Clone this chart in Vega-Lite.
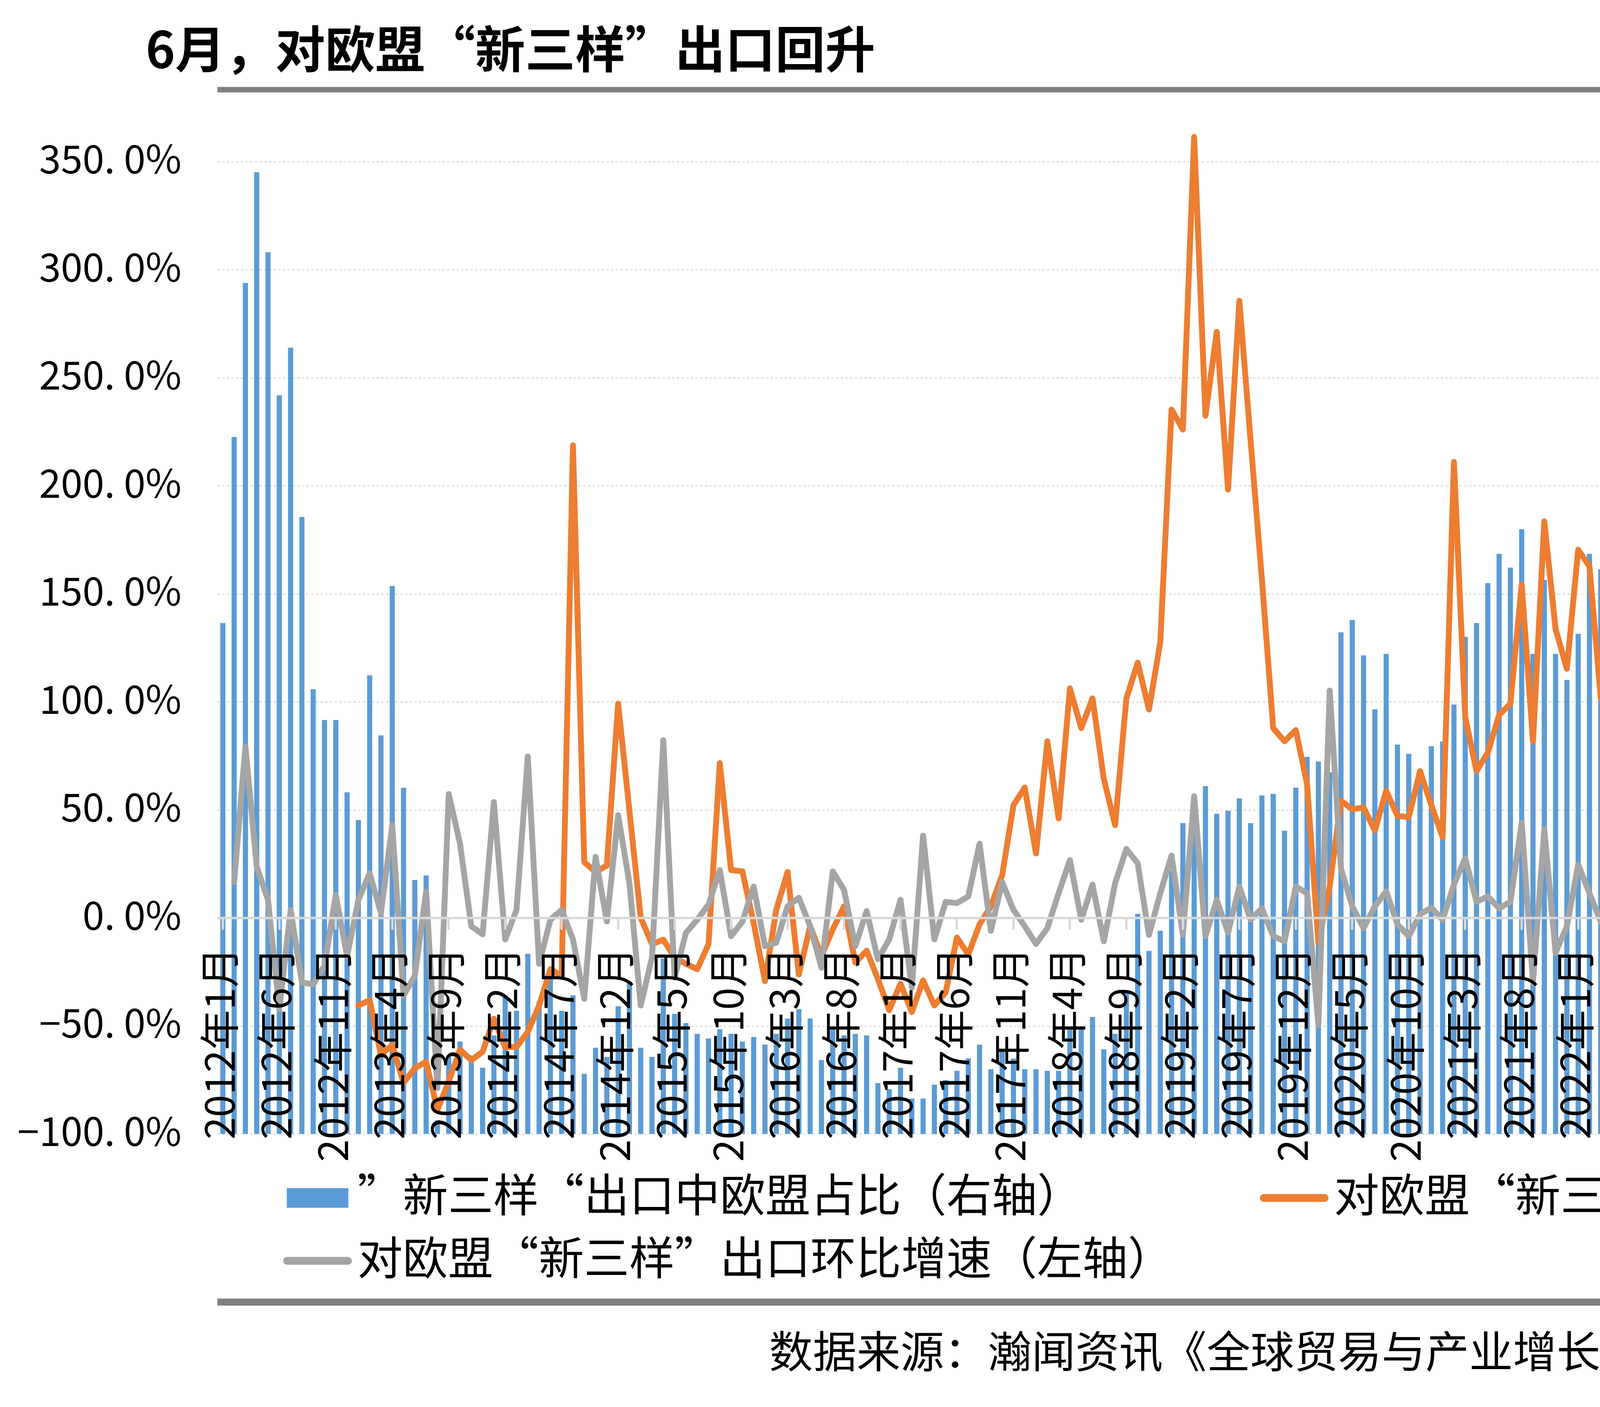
{
  "$schema": "https://vega.github.io/schema/vega-lite/v6.json",
  "autosize": {"type": "none"},
  "padding": {"left": 556, "top": 303, "right": 441, "bottom": 699},
  "width": 5031,
  "height": 2599,
  "background": "white",
  "config": {"view": {"stroke": null}, "font": "Noto Sans CJK SC"},
  "title": {"text": "6月，对欧盟“新三样”出口回升", "anchor": "start", "frame": "group", "dx": -183, "offset": 28, "fontSize": 128, "fontWeight": "bold", "color": "#000000", "font": "Noto Sans CJK SC"},
  "data": {"values": [
    {"month":"2012年1月","share":37.2,"yoy":null,"mom":null},
    {"month":"2012年2月","share":49.3,"yoy":null,"mom":16.5},
    {"month":"2012年3月","share":59.3,"yoy":null,"mom":79.3},
    {"month":"2012年4月","share":66.5,"yoy":null,"mom":23.6},
    {"month":"2012年5月","share":61.3,"yoy":null,"mom":8.3},
    {"month":"2012年6月","share":52.0,"yoy":null,"mom":-42.1},
    {"month":"2012年7月","share":55.1,"yoy":null,"mom":3.7},
    {"month":"2012年8月","share":44.1,"yoy":null,"mom":-29.9},
    {"month":"2012年9月","share":32.9,"yoy":null,"mom":-30.8},
    {"month":"2012年10月","share":30.9,"yoy":null,"mom":-22.2},
    {"month":"2012年11月","share":30.9,"yoy":null,"mom":10.5},
    {"month":"2012年12月","share":26.2,"yoy":null,"mom":-17.7},
    {"month":"2013年1月","share":24.4,"yoy":-40.6,"mom":8.3},
    {"month":"2013年2月","share":33.8,"yoy":-38.1,"mom":20.6},
    {"month":"2013年3月","share":29.9,"yoy":-63.5,"mom":2.2},
    {"month":"2013年4月","share":39.6,"yoy":-58.9,"mom":42.9},
    {"month":"2013年5月","share":26.5,"yoy":-76.3,"mom":-36.0},
    {"month":"2013年6月","share":20.5,"yoy":-69.6,"mom":-26.8},
    {"month":"2013年7月","share":20.8,"yoy":-66.6,"mom":12.3},
    {"month":"2013年8月","share":4.9,"yoy":-88.9,"mom":-78.8},
    {"month":"2013年9月","share":9.0,"yoy":-75.7,"mom":57.3},
    {"month":"2013年10月","share":10.0,"yoy":-61.0,"mom":34.3},
    {"month":"2013年11月","share":9.1,"yoy":-65.9,"mom":-3.9},
    {"month":"2013年12月","share":8.3,"yoy":-62.0,"mom":-7.6},
    {"month":"2014年1月","share":10.4,"yoy":-46.7,"mom":53.6},
    {"month":"2014年2月","share":13.0,"yoy":-59.8,"mom":-10.0},
    {"month":"2014年3月","share":12.0,"yoy":-59.8,"mom":3.7},
    {"month":"2014年4月","share":15.7,"yoy":-52.8,"mom":74.7},
    {"month":"2014年5月","share":12.6,"yoy":-40.6,"mom":-21.3},
    {"month":"2014年6月","share":14.3,"yoy":-23.8,"mom":-0.9},
    {"month":"2014年7月","share":12.0,"yoy":-26.8,"mom":3.7},
    {"month":"2014年8月","share":13.0,"yoy":218.7,"mom":-10.0},
    {"month":"2014年9月","share":7.9,"yoy":25.8,"mom":-37.5},
    {"month":"2014年10月","share":9.6,"yoy":21.2,"mom":28.2},
    {"month":"2014年11月","share":9.0,"yoy":24.2,"mom":-1.7},
    {"month":"2014年12月","share":12.3,"yoy":99.1,"mom":47.5},
    {"month":"2015年1月","share":13.9,"yoy":49.6,"mom":16.0},
    {"month":"2015年2月","share":9.6,"yoy":0,"mom":-40.6},
    {"month":"2015年3月","share":9.0,"yoy":-12.2,"mom":-18.3},
    {"month":"2015年4月","share":15.4,"yoy":-10.1,"mom":82.3},
    {"month":"2015年5月","share":11.8,"yoy":-18.3,"mom":-27.7},
    {"month":"2015年6月","share":11.2,"yoy":-21.3,"mom":-7.0},
    {"month":"2015年7月","share":10.5,"yoy":-23.8,"mom":-0.9},
    {"month":"2015年8月","share":10.2,"yoy":-12.2,"mom":6.2},
    {"month":"2015年9月","share":10.8,"yoy":71.6,"mom":22.1},
    {"month":"2015年10月","share":10.5,"yoy":22.1,"mom":-8.5},
    {"month":"2015年11月","share":10.0,"yoy":21.5,"mom":-1.8},
    {"month":"2015年12月","share":10.3,"yoy":-2.4,"mom":14.5},
    {"month":"2016年1月","share":9.8,"yoy":-29.3,"mom":-13.1},
    {"month":"2016年2月","share":10.5,"yoy":3.7,"mom":-11.5},
    {"month":"2016年3月","share":11.5,"yoy":21.2,"mom":5.3},
    {"month":"2016年4月","share":12.1,"yoy":-26.2,"mom":9.3},
    {"month":"2016年5月","share":11.5,"yoy":-3.9,"mom":-3.9},
    {"month":"2016年6月","share":8.8,"yoy":-17.7,"mom":-23.1},
    {"month":"2016年7月","share":10.8,"yoy":-5.4,"mom":21.5},
    {"month":"2016年8月","share":10.4,"yoy":5.3,"mom":12.9},
    {"month":"2016年9月","share":10.5,"yoy":-20.7,"mom":-13.1},
    {"month":"2016年10月","share":10.4,"yoy":-15.2,"mom":3.1},
    {"month":"2016年11月","share":7.3,"yoy":-28.3,"mom":-19.2},
    {"month":"2016年12月","share":6.9,"yoy":-42.7,"mom":-10.0},
    {"month":"2017年1月","share":8.3,"yoy":-30.5,"mom":8.3},
    {"month":"2017年2月","share":6.3,"yoy":-43.6,"mom":-32.3},
    {"month":"2017年3月","share":6.3,"yoy":-29.0,"mom":38.0},
    {"month":"2017年4月","share":7.2,"yoy":-40.6,"mom":-10.0},
    {"month":"2017年5月","share":7.5,"yoy":-34.5,"mom":7.4},
    {"month":"2017年6月","share":8.1,"yoy":-9.1,"mom":6.8},
    {"month":"2017年7月","share":8.9,"yoy":-17.0,"mom":9.9},
    {"month":"2017年8月","share":9.8,"yoy":-3.0,"mom":34.3},
    {"month":"2017年9月","share":8.2,"yoy":5.3,"mom":-6.0},
    {"month":"2017年10月","share":9.5,"yoy":19.7,"mom":16.6},
    {"month":"2017年11月","share":8.9,"yoy":52.1,"mom":3.7},
    {"month":"2017年12月","share":8.2,"yoy":60.3,"mom":-3.9},
    {"month":"2018年1月","share":8.2,"yoy":29.8,"mom":-12.1},
    {"month":"2018年2月","share":8.1,"yoy":81.7,"mom":-4.8},
    {"month":"2018年3月","share":8.1,"yoy":46.0,"mom":11.4},
    {"month":"2018年4月","share":10.8,"yoy":106.2,"mom":26.7},
    {"month":"2018年5月","share":10.8,"yoy":87.8,"mom":-0.9},
    {"month":"2018年6月","share":11.6,"yoy":101.6,"mom":15.4},
    {"month":"2018年7月","share":9.5,"yoy":64.3,"mom":-10.9},
    {"month":"2018年8月","share":10.5,"yoy":42.9,"mom":16.0},
    {"month":"2018年9月","share":13.3,"yoy":101.6,"mom":31.9},
    {"month":"2018年10月","share":18.3,"yoy":118.1,"mom":25.2},
    {"month":"2018年11月","share":15.9,"yoy":96.4,"mom":-7.9},
    {"month":"2018年12月","share":17.2,"yoy":127.6,"mom":11.4},
    {"month":"2019年1月","share":21.1,"yoy":235.2,"mom":28.8},
    {"month":"2019年2月","share":24.2,"yoy":226.0,"mom":-7.9},
    {"month":"2019年3月","share":25.7,"yoy":361.4,"mom":56.3},
    {"month":"2019年4月","share":26.6,"yoy":232.4,"mom":-8.5},
    {"month":"2019年5月","share":24.8,"yoy":271.2,"mom":8.3},
    {"month":"2019年6月","share":25.0,"yoy":198.2,"mom":-6.9},
    {"month":"2019年7月","share":25.8,"yoy":285.6,"mom":14.5},
    {"month":"2019年8月","share":24.2,"yoy":220.8,"mom":-0.9},
    {"month":"2019年9月","share":26.0,"yoy":156.6,"mom":4.4},
    {"month":"2019年10月","share":26.1,"yoy":87.8,"mom":-8.5},
    {"month":"2019年11月","share":23.7,"yoy":81.7,"mom":-10.9},
    {"month":"2019年12月","share":26.5,"yoy":86.9,"mom":14.5},
    {"month":"2020年1月","share":28.5,"yoy":61.8,"mom":11.4},
    {"month":"2020年2月","share":28.2,"yoy":-11.5,"mom":-49.7},
    {"month":"2020年3月","share":27.5,"yoy":14.5,"mom":105.2},
    {"month":"2020年4月","share":36.6,"yoy":54.2,"mom":22.7},
    {"month":"2020年5月","share":37.4,"yoy":50.2,"mom":5.3},
    {"month":"2020年6月","share":35.1,"yoy":51.1,"mom":-4.8},
    {"month":"2020年7月","share":31.6,"yoy":40.4,"mom":5.3},
    {"month":"2020年8月","share":35.2,"yoy":58.8,"mom":12.3},
    {"month":"2020年9月","share":29.3,"yoy":47.2,"mom":-3.0},
    {"month":"2020年10月","share":28.7,"yoy":46.6,"mom":-8.5},
    {"month":"2020年11月","share":27.2,"yoy":67.9,"mom":1.6},
    {"month":"2020年12月","share":29.2,"yoy":52.1,"mom":4.7},
    {"month":"2021年1月","share":29.5,"yoy":37.4,"mom":-0.9},
    {"month":"2021年2月","share":31.9,"yoy":211.0,"mom":15.4},
    {"month":"2021年3月","share":36.3,"yoy":93.0,"mom":27.6},
    {"month":"2021年4月","share":37.2,"yoy":67.9,"mom":7.4},
    {"month":"2021年5月","share":39.8,"yoy":76.5,"mom":9.9},
    {"month":"2021年6月","share":41.7,"yoy":93.9,"mom":4.4},
    {"month":"2021年7月","share":40.8,"yoy":99.1,"mom":7.4},
    {"month":"2021年8月","share":43.3,"yoy":154.2,"mom":44.1},
    {"month":"2021年9月","share":35.2,"yoy":81.7,"mom":-29.9},
    {"month":"2021年10月","share":40.0,"yoy":183.5,"mom":41.0},
    {"month":"2021年11月","share":35.2,"yoy":133.7,"mom":-16.1},
    {"month":"2021年12月","share":33.5,"yoy":115.3,"mom":-3.9},
    {"month":"2022年1月","share":36.5,"yoy":170.4,"mom":24.6},
    {"month":"2022年2月","share":41.7,"yoy":162.7,"mom":11.4},
    {"month":"2022年3月","share":40.7,"yoy":101.6,"mom":-1.8},
    {"month":"2022年4月","share":47.4,"yoy":98.5,"mom":4.4},
    {"month":"2022年5月","share":47.8,"yoy":135.8,"mom":31.9},
    {"month":"2022年6月","share":46.5,"yoy":116.9,"mom":-4.8},
    {"month":"2022年7月","share":47.2,"yoy":139.8,"mom":19.0},
    {"month":"2022年8月","share":46.0,"yoy":81.7,"mom":9.9},
    {"month":"2022年9月","share":46.4,"yoy":140.7,"mom":-8.5},
    {"month":"2022年10月","share":47.6,"yoy":86.9,"mom":9.3},
    {"month":"2022年11月","share":43.3,"yoy":110.1,"mom":-5.4},
    {"month":"2022年12月","share":39.4,"yoy":80.2,"mom":-17.0},
    {"month":"2023年1月","share":44.0,"yoy":86.3,"mom":30.0},
    {"month":"2023年2月","share":47.2,"yoy":61.2,"mom":-3.9},
    {"month":"2023年3月","share":44.1,"yoy":80.8,"mom":9.9},
    {"month":"2023年4月","share":43.8,"yoy":64.3,"mom":-4.8},
    {"month":"2023年5月","share":42.7,"yoy":31.3,"mom":5.3},
    {"month":"2023年6月","share":41.0,"yoy":14.5,"mom":-16.1},
    {"month":"2023年7月","share":36.0,"yoy":-19.2,"mom":-15.2},
    {"month":"2023年8月","share":33.6,"yoy":-26.8,"mom":-0.8},
    {"month":"2023年9月","share":34.3,"yoy":-14.0,"mom":8.3},
    {"month":"2023年10月","share":38.0,"yoy":-12.1,"mom":9.9},
    {"month":"2023年11月","share":24.2,"yoy":-45.8,"mom":-34.5},
    {"month":"2023年12月","share":28.6,"yoy":-28.3,"mom":12.9},
    {"month":"2024年1月","share":34.4,"yoy":-29.3,"mom":26.7},
    {"month":"2024年2月","share":34.1,"yoy":-38.4,"mom":-16.1},
    {"month":"2024年3月","share":34.3,"yoy":-32.9,"mom":21.5},
    {"month":"2024年4月","share":34.2,"yoy":-28.3,"mom":2.2},
    {"month":"2024年5月","share":33.5,"yoy":-32.9,"mom":-2.4},
    {"month":"2024年6月","share":33.2,"yoy":-26.8,"mom":-8.5},
    {"month":"2024年7月","share":33.5,"yoy":-4.8,"mom":7.4},
    {"month":"2024年8月","share":34.7,"yoy":3.8,"mom":6.8},
    {"month":"2024年9月","share":37.8,"yoy":-0.8,"mom":2.2},
    {"month":"2024年10月","share":32.7,"yoy":-18.3,"mom":-5.4},
    {"month":"2024年11月","share":25.1,"yoy":-11.5,"mom":-32.9},
    {"month":"2024年12月","share":28.8,"yoy":2.2,"mom":23.6},
    {"month":"2025年1月","share":31.0,"yoy":-6.0,"mom":15.4},
    {"month":"2025年2月","share":31.5,"yoy":-13.1,"mom":-25.3},
    {"month":"2025年3月","share":30.0,"yoy":-6.9,"mom":32.8},
    {"month":"2025年4月","share":33.2,"yoy":14.5,"mom":25.8},
    {"month":"2025年5月","share":33.6,"yoy":19.7,"mom":3.8},
    {"month":"2025年6月","share":31.9,"yoy":22.1,"mom":-6.9},
    {"month":"2025年7月","share":33.5,"yoy":28.2,"mom":14.5},
    {"month":"2025年8月","share":36.4,"yoy":41.1,"mom":18.4},
    {"month":"2025年9月","share":33.5,"yoy":23.6,"mom":-9.1},
    {"month":"2025年10月","share":31.3,"yoy":26.7,"mom":-6.0},
    {"month":"2025年11月","share":27.0,"yoy":58.8,"mom":-17.7},
    {"month":"2025年12月","share":30.4,"yoy":71.6,"mom":32.8},
    {"month":"2026年1月","share":35.2,"yoy":60.3,"mom":6.8},
    {"month":"2026年2月","share":34.4,"yoy":90.9,"mom":-10.9},
    {"month":"2026年3月","share":33.6,"yoy":92.4,"mom":34.3},
    {"month":"2026年4月","share":35.2,"yoy":52.7,"mom":-0.8},
    {"month":"2026年5月","share":31.8,"yoy":31.9,"mom":-10.0},
    {"month":"2026年6月","share":33.0,"yoy":61.2,"mom":12.9}
  ]},
  "resolve": {"scale": {"y": "independent"}, "axis": {"x": "independent", "y": "independent"}},
  "layer": [
    {
      "mark": {"type": "bar"},
      "encoding": {
        "x": {"field": "month", "type": "ordinal", "sort": null,
          "scale": {"paddingInner": 0.545, "paddingOuter": 0.2725},
          "axis": {"orient": "bottom", "offset": -553, "zindex": 1, "title": null, "grid": false,
            "values": ["2012年1月","2012年6月","2012年11月","2013年4月","2013年9月","2014年2月","2014年7月","2014年12月","2015年5月","2015年10月","2016年3月","2016年8月","2017年1月","2017年6月","2017年11月","2018年4月","2018年9月","2019年2月","2019年7月","2019年12月","2020年5月","2020年10月","2021年3月","2021年8月","2022年1月","2022年6月","2022年11月","2023年4月","2023年9月","2024年2月","2024年7月","2024年12月","2025年5月","2025年10月","2026年3月"],
            "labelAngle": -90, "labelFontSize": 103, "labelFont": "Noto Sans CJK SC", "labelColor": "#000000", "labelPadding": 45, "labelOverlap": false, "labelBound": false, "labelLimit": 2000,
            "domainColor": "#d9d9d9", "domainWidth": 6, "ticks": true, "tickColor": "#d9d9d9", "tickSize": 30, "tickWidth": 6}},
        "y": {"field": "share", "type": "quantitative",
          "scale": {"domain": [4, 70], "zero": false, "nice": false},
          "axis": {"orient": "right", "title": null, "values": [4, 14, 24, 34, 44, 54, 64], "labelExpr": "replace(format(datum.value, '.1f'), '.', '. ') + '%'", "labelFontSize": 100, "labelFont": "Noto Sans CJK SC", "labelColor": "#000000", "labelPadding": 95, "labelLimit": 2000, "ticks": false, "tickSize": 0, "domain": false, "grid": false}},
        "y2": {"datum": 4},
        "color": {"datum": "”新三样“出口中欧盟占比（右轴）",
          "scale": {"domain": ["”新三样“出口中欧盟占比（右轴）", "对欧盟“新三样”出口环比增速（左轴）", "对欧盟“新三样”出口同比增速（左轴）"], "range": ["#5B9BD5", "#A5A5A5", "#ED7D31"]},
          "legend": {"title": null, "orient": "none", "legendX": 199, "legendY": 2705, "columns": 2, "columnPadding": 192, "rowPadding": 45,
            "labelFontSize": 116, "labelFont": "Noto Sans CJK SC", "labelColor": "#000000", "labelLimit": 5000, "labelOffset": 44,
            "symbolSize": 24336, "symbolStrokeWidth": 20,
            "encode": {"symbols": {"update": {
              "shape": {"signal": "datum.value === '”新三样“出口中欧盟占比（右轴）' ? 'M-1.01,-0.32H1.01V0.32H-1.01Z' : 'stroke'"},
              "fill": {"signal": "datum.value === '”新三样“出口中欧盟占比（右轴）' ? '#5B9BD5' : 'transparent'"},
              "stroke": {"signal": "datum.value === '”新三样“出口中欧盟占比（右轴）' ? 'transparent' : (datum.value === '对欧盟“新三样”出口同比增速（左轴）' ? '#ED7D31' : '#A5A5A5')"},
              "strokeWidth": {"signal": "datum.value === '”新三样“出口中欧盟占比（右轴）' ? 0 : 20"},
              "strokeCap": {"value": "round"},
              "opacity": {"value": 1}
            }}}}}
      }
    },
    {
      "mark": {"type": "line", "strokeWidth": 15, "strokeJoin": "round", "strokeCap": "round"},
      "encoding": {
        "x": {"field": "month", "type": "ordinal", "sort": null,
          "axis": {"orient": "top", "offset": 74, "title": null, "labels": false, "ticks": false, "grid": false, "domainColor": "#7f7f7f", "domainWidth": 14}},
        "y": {"field": "yoy", "type": "quantitative",
          "scale": {"domain": [-100, 370], "zero": false, "nice": false},
          "axis": {"orient": "left", "title": null, "values": [-100, -50, 0, 50, 100, 150, 200, 250, 300, 350], "labelExpr": "replace(format(datum.value, '.1f'), '.', '. ') + '%'", "labelFontSize": 100, "labelFont": "Noto Sans CJK SC", "labelColor": "#000000", "labelPadding": 92, "labelLimit": 2000, "ticks": false, "tickSize": 0, "domain": false, "grid": true, "gridColor": "#d9d9d9", "gridDash": [6, 6], "gridWidth": 3}},
        "color": {"datum": "对欧盟“新三样”出口同比增速（左轴）"}
      }
    },
    {
      "mark": {"type": "line", "strokeWidth": 15, "strokeJoin": "round", "strokeCap": "round"},
      "encoding": {
        "x": {"field": "month", "type": "ordinal", "sort": null,
          "axis": {"orient": "bottom", "offset": 430, "labels": false, "ticks": false, "grid": false, "domainColor": "#7f7f7f", "domainWidth": 18,
            "title": "数据来源：瀚闻资讯《全球贸易与产业增长实验室》(GTI)系统  界面智库整理", "titleFontSize": 112, "titleFont": "Noto Sans CJK SC", "titleFontWeight": "normal", "titleColor": "#000000", "titleAlign": "right", "titleAnchor": "end", "titleX": 5160, "titleY": 80, "titleBaseline": "top", "titleLimit": 6000}},
        "y": {"field": "mom", "type": "quantitative",
          "scale": {"domain": [-100, 370], "zero": false, "nice": false},
          "axis": null},
        "color": {"datum": "对欧盟“新三样”出口环比增速（左轴）"}
      }
    }
  ]
}
